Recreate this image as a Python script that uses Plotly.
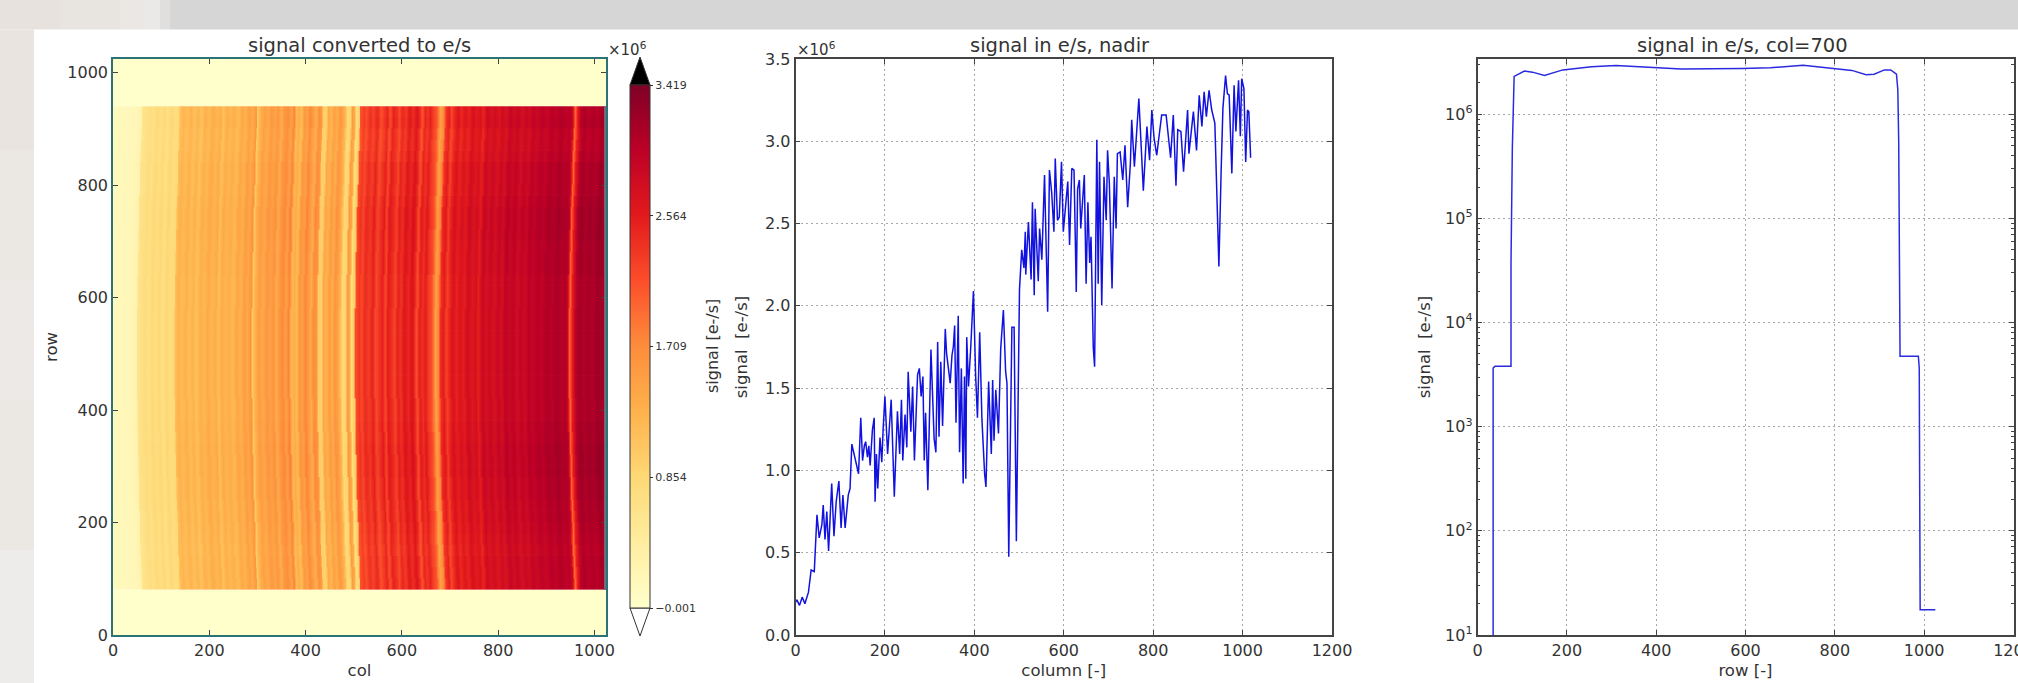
import plotly.graph_objects as go

W, H = 2018, 683

# Signal along the nadir row (column, signal in 1e6 e-/s)
nadir_col = [0,3,9,15,21,29,35,42,48,53,59,62,66,70,74,81,86,91,97,102,106,111,118,122,126,131,136,141,146,150,
    154,157,161,164,167,172,176,178,181,184,189,193,196,200,206,214,221,228,233,237,240,245,249,252,258,262,266,273,277,281,
    285,288,291,296,303,310,314,318,321,325,329,335,338,342,346,350,353,356,359,364,367,371,375,378,381,383,387,392,398,403,
    407,412,417,423,426,432,438,441,444,448,454,459,465,470,473,477,484,489,494,501,506,511,514,515,521,527,530,534,536,543,
    546,551,557,564,568,573,578,581,586,590,595,599,603,609,613,618,623,628,631,635,638,646,650,654,658,661,666,669,674,677,
    680,685,690,695,698,702,708,713,717,720,726,732,737,743,749,752,758,768,778,786,792,797,802,808,819,829,839,845,851,855,
    862,868,877,880,890,897,903,909,914,919,925,931,938,947,952,956,962,966,970,976,981,985,991,995,998,1003,1007,1011,1014,1018]
nadir_signal = [.20,.213,.18,.23,.19,.26,.395,.385,.73,.59,.67,.79,.58,.75,.51,.92,.60,.81,.935,.65,.85,.65,.85,.89,1.16,1.10,1.05,.98,1.32,1.06,
    1.15,1.175,1.08,1.15,1.03,1.245,1.32,.81,1.10,.89,1.20,1.05,1.25,1.45,1.10,1.43,.84,1.36,1.10,1.43,1.06,1.34,1.14,1.60,1.235,1.51,1.06,1.58,1.62,1.45,
    1.57,1.06,1.35,.88,1.735,1.195,1.11,1.78,1.205,1.66,1.27,1.86,1.71,1.60,1.53,1.70,1.75,1.88,1.29,1.94,1.11,1.62,.92,1.57,.95,1.81,1.51,1.75,2.09,1.57,
    1.32,1.84,1.31,.98,.90,1.54,1.10,1.55,1.18,1.49,1.225,1.74,1.975,1.60,1.53,.475,1.87,1.87,.57,2.10,2.34,2.23,2.45,2.19,2.51,2.16,2.63,2.065,2.59,2.15,
    2.47,2.28,2.795,1.965,2.825,2.69,2.45,2.895,2.52,2.54,2.875,2.45,2.59,2.755,2.37,2.835,2.825,2.085,2.71,2.765,2.47,2.795,2.135,2.63,2.26,2.42,1.75,1.63,3.01,2.135,
    2.875,2.005,2.785,2.52,2.945,2.745,2.105,2.785,2.47,2.925,2.935,2.765,2.975,2.60,2.865,3.13,2.845,3.26,2.70,3.09,2.885,3.19,3.02,2.915,3.16,3.16,2.90,3.16,2.73,3.07,
    3.06,2.815,3.19,2.925,3.18,2.945,3.28,3.09,3.30,3.15,3.31,3.19,3.11,2.24,2.815,3.20,3.40,3.29,3.28,2.805,3.34,3.06,3.37,3.03,3.38,3.32,2.875,3.19,3.18,2.90]

# Signal along column 700
row_index = [35,35,39,75,75,78,82,105,123,150,191,255,310,374,456,592,656,729,793,838,870,888,911,925,938,941,943,946,987,989,991,1025]
row_signal = [10,3660,3800,3800,36800,472000,2310000,2600000,2540000,2360000,2670000,2860000,2940000,2830000,2720000,2750000,2800000,2960000,2770000,2640000,2400000,2430000,2670000,2670000,2430000,1730000,546000,4740,4740,3660,17.5,17.5]

# Heat map: stripe colours across the columns
heat_col = [0,20,40,47,50,58,66,72,80,88,95,102,110,118,125,128,135,142,150,158,165,172,180,188,196,204,212,218,225,232,
    240,248,256,264,272,278,285,289,294,302,310,318,325,332,338,345,352,358,364,370,375,380,386,392,398,404,410,416,421,425,
    431,436,442,448,454,460,465,470,475,481,486,490,494,499,503,510,515,522,530,538,545,552,558,564,570,578,584,590,597,604,
    612,620,626,630,636,642,648,654,660,664,669,675,680,686,692,698,705,712,720,728,736,744,752,758,766,774,782,790,798,806,
    814,822,830,838,846,854,862,870,880,890,900,910,920,930,938,943,948,953,960,968,976,985,995,1005,1012,1020]
heat_signal = [.15,.18,.22,.30,.62,.70,.78,.70,.85,.74,.86,.70,.88,.76,.84,1.15,1.28,1.18,1.30,1.16,1.28,1.12,1.32,1.22,1.38,1.24,1.36,1.14,1.36,1.24,
    1.34,1.20,1.42,1.30,1.52,1.38,1.62,1.05,1.30,1.52,1.40,1.60,1.48,1.62,1.36,1.62,1.72,1.50,1.78,1.22,1.34,1.18,1.60,1.50,1.76,1.55,1.35,1.72,1.60,1.00,
    .95,1.40,1.28,1.52,1.36,1.62,1.50,1.25,.85,.90,1.55,1.40,.75,1.00,2.15,2.32,2.18,2.42,2.28,2.50,2.18,2.36,2.52,2.20,2.55,2.40,2.22,2.50,2.36,2.62,
    2.46,2.68,2.42,2.15,2.52,2.38,2.55,2.30,2.15,1.90,1.50,1.75,2.40,2.55,2.25,2.48,2.68,2.50,2.66,2.54,2.78,2.62,2.72,2.52,2.86,2.72,2.84,2.70,2.86,2.74,
    2.96,2.84,2.94,2.78,2.92,2.82,2.98,2.90,3.02,2.94,3.08,3.00,3.12,3.02,3.08,2.90,2.00,2.55,3.00,3.18,3.05,3.14,3.06,3.22,3.14,3.20]
# Row bands, sideways drift of the stripes and brightness per band
band_edges = [80,100,120,140,160,180,200,220,240,260,280,300,320,340,360,380,400,420,440,460,480,500,520,540,560,580,600,620,640,660,680,700,720,740,760,780,800,820,840,860,880,900,920,940]
band_shift = [11,10,9,8,7,7,6,5,4,4,3,3,2,2,1,1,1,0,0,0,0,0,0,0,0,1,1,1,2,2,3,3,4,4,5,6,7,7,8,9,10,11,11]
band_gain = [.98,.98,.98,.97,.98,.99,1.0,1.0,1.01,1.01,1.02,1.02,1.02,1.01,1.01,1.0,1.0,1.0,1.0,1.0,1.0,1.0,1.0,1.0,1.0,1.0,1.0,1.0,1.01,1.01,1.01,1.02,1.02,1.02,1.01,1.0,1.0,1.0,.98,.97,.97,.99,.98]
dark_bands = [(0, 80, .0038), (940, 1024, .0047)]

cbar_ticks = [-0.001, 0.854, 1.709, 2.564, 3.419]
cbar_text = ["−0.001", "0.854", "1.709", "2.564", "3.419"]
log_ticks = [10, 100, 1000, 10000, 100000, 1000000]
log_text = ["10<sup>1</sup>", "10<sup>2</sup>", "10<sup>3</sup>", "10<sup>4</sup>", "10<sup>5</sup>", "10<sup>6</sup>"]
ylorrd = ["#ffffcc","#ffeda0","#fed976","#feb24c","#fd8d3c","#fc4e2a","#e31a1c","#bd0026","#800026"]

FONT = "DejaVu Sans"
INK = "#333333"
def px(x): return x / W
def py(y): return (H - y) / H

fig = go.Figure()
for y0, y1, v in dark_bands:
    fig.add_trace(go.Heatmap(x=[0, 1024], y=[y0, y1], z=[[v, v]], coloraxis="coloraxis", hoverinfo="skip"))
for i, (shift, gain) in enumerate(zip(band_shift, band_gain)):
    bx = [heat_col[0]] + [c + shift for c in heat_col[1:]]
    zrow = [v * gain for v in heat_signal]
    y0, y1 = band_edges[i], band_edges[i + 1] + (2 if i < len(band_shift) - 1 else 0)
    fig.add_trace(go.Heatmap(x=bx, y=[y0, (y0 + y1) / 2, y1], z=[zrow, zrow], zsmooth="best",
                             coloraxis="coloraxis", hoverinfo="skip"))
fig.add_trace(go.Scatter(x=nadir_col, y=nadir_signal, mode="lines", line=dict(color="#1212e0", width=1.5), xaxis="x2", yaxis="y2"))
fig.add_trace(go.Scatter(x=row_index, y=row_signal, mode="lines", line=dict(color="#2a2ae0", width=1.5), xaxis="x3", yaxis="y3"))

common = dict(showline=True, linecolor="#444444", linewidth=1.5, mirror="allticks", ticks="inside", ticklen=5,
              tickcolor="#444444", tickfont=dict(family=FONT, size=16, color=INK), zeroline=False,
              title_font=dict(family=FONT, size=16.5, color=INK))
grid = dict(showgrid=True, gridcolor="#a8a8a8", griddash="2px,3px", gridwidth=1)
hm = dict(common, linecolor="#2c7378", showgrid=False)

shapes = []
def rect(x0, y0, x1, y1, color):
    shapes.append(dict(type="rect", xref="paper", yref="paper", x0=px(x0), x1=px(x1), y0=py(y0), y1=py(y1),
                       fillcolor=color, line_width=0, layer="below"))
rect(170, 0, W, 29.5, "#d6d6d6")
for x0, x1, c in [(0, 60, "#e7e2dd"), (60, 120, "#e8e4e0"), (120, 145, "#eae7e4"), (145, 160, "#ebe9e7"), (160, 170, "#e0dfde")]:
    rect(x0, 0, x1, 29.5, c)
for y0, y1, c in [(29.5, 150, "#e9e4df"), (150, 280, "#ebe7e3"), (280, 400, "#ece9e6"), (400, 550, "#ebe7e3"), (550, H, "#eeecea")]:
    rect(0, y0, 34, y1, c)
shapes.append(dict(type="rect", xref="x", yref="y", x0=1020, x1=1024, y0=80, y1=940, fillcolor="#6f6f7a", line_width=0))
def tri(pts, fill):
    d = "M " + " L ".join(f"{px(a)} {py(b)}" for a, b in pts) + " Z"
    shapes.append(dict(type="path", xref="paper", yref="paper", path=d, fillcolor=fill, line=dict(color="#333333", width=1)))
tri([(630, 85), (650, 85), (640, 57)], "#000000")
tri([(630, 608), (650, 608), (640, 636)], "#ffffff")

annots = []
def note(x, y, text, size=16, angle=0):
    annots.append(dict(xref="paper", yref="paper", x=px(x), y=py(y), text=text, showarrow=False, textangle=angle,
                       xanchor="center", yanchor="middle", font=dict(family=FONT, size=size, color=INK)))
note(359, 46, "signal converted to e/s", 19.5)
note(1060, 46, "signal in e/s, nadir", 19.5)
note(1742, 46, "signal in e/s, col=700", 19.5)
note(627, 49, "×10<sup>6</sup>", 15)
note(816, 49, "×10<sup>6</sup>", 15)
note(712, 346, "signal [e-/s]", 16, -90)

fig.update_layout(
    width=W, height=H, margin=dict(l=0, r=0, t=0, b=0, pad=0, autoexpand=False), autosize=False, showlegend=False,
    paper_bgcolor="#ffffff", plot_bgcolor="#ffffff", shapes=shapes, annotations=annots,
    coloraxis=dict(cmin=-0.001, cmax=3.419, colorscale=ylorrd,
                   colorbar=dict(x=px(630), xanchor="left", xpad=0, y=py(85), yanchor="top", ypad=0,
                                 lenmode="pixels", len=523, thicknessmode="pixels", thickness=20,
                                 tickmode="array", tickvals=cbar_ticks, ticktext=cbar_text, ticks="outside", ticklen=3,
                                 tickcolor="#333333", tickfont=dict(family=FONT, size=11, color=INK),
                                 outlinecolor="#333333", outlinewidth=1)),
    xaxis=dict(hm, domain=[px(113), px(606)], range=[0, 1024], tickvals=[0,200,400,600,800,1000], anchor="y",
               title=dict(text="col", standoff=5)),
    yaxis=dict(hm, domain=[py(635), py(59)], range=[0, 1024], tickvals=[0,200,400,600,800,1000], anchor="x",
               title=dict(text="row", standoff=6)),
    xaxis2=dict(common, **grid, domain=[px(795.5), px(1332)], range=[0, 1200], dtick=200, anchor="y2",
                title=dict(text="column [-]", standoff=5)),
    yaxis2=dict(common, **grid, domain=[py(635), py(59)], range=[0, 3.5], dtick=0.5, tickformat=".1f", anchor="x2",
                title=dict(text="signal  [e-/s]", standoff=13)),
    xaxis3=dict(common, **grid, domain=[px(1477.5), px(2013.5)], range=[0, 1200], dtick=200, anchor="y3",
                ticklabeloverflow="allow", title=dict(text="row [-]", standoff=5)),
    yaxis3=dict(common, **grid, type="log", domain=[py(635), py(59)], range=[1, 6.531], tickmode="array",
                tickvals=log_ticks, ticktext=log_text, anchor="x3",
                minor=dict(ticks="inside", ticklen=3, dtick="D1", tickcolor="#444444"),
                title=dict(text="signal  [e-/s]", standoff=10)),
)

fig.write_html("out.html", config={"displayModeBar": False},
               post_script="document.body.style.margin='0';document.body.style.overflow='hidden';")
